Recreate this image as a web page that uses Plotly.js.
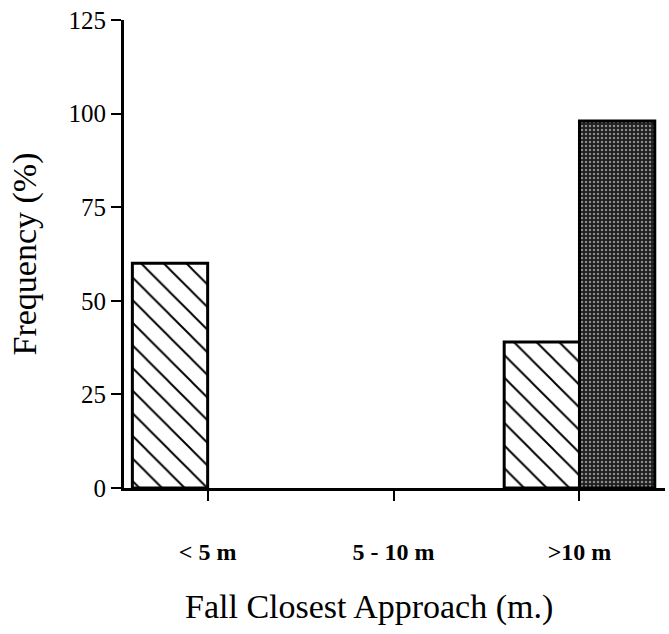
<!DOCTYPE html>
<html>
<head>
<meta charset="utf-8">
<script src="https://cdn.plot.ly/plotly-3.0.1.min.js"></script>
<style>html,body{margin:0;padding:0;background:#fff;}#chart{width:669px;height:634px;}</style>
</head>
<body>
<div id="chart"></div>
<script>
const categories = ["< 5 m", "5 - 10 m", ">10 m"];
const hatchedValues = [60, 0, 39];
const stippledValues = [0, 0, 98];
const yTicks = [0, 25, 50, 75, 100, 125];
const xTitle = "Fall Closest Approach (m.)";
const yTitle = "Frequency (%)";

const serif = "Liberation Serif, Times New Roman, serif";
const outline = vals => vals.map(v => (v > 0 ? 3 : 0));

const traces = [
  {
    type: "bar",
    x: categories,
    y: hatchedValues,
    name: "hatched",
    marker: {
      color: "#ffffff",
      line: {color: "#000", width: outline(hatchedValues)},
      pattern: {shape: "\\", fgcolor: "#000", bgcolor: "#fff", size: 16, solidity: 0.12}
    },
    hoverinfo: "x+y"
  },
  {
    type: "bar",
    x: categories,
    y: stippledValues,
    name: "stippled",
    marker: {
      color: "#222",
      line: {color: "#000", width: outline(stippledValues)},
      pattern: {shape: ".", fgcolor: "#8c8c8c", bgcolor: "#1e1e1e", size: 4, solidity: 0.3}
    },
    hoverinfo: "x+y"
  }
];

const layout = {
  width: 669,
  height: 634,
  margin: {l: 124, r: 4, t: 20, b: 146},
  paper_bgcolor: "#fff",
  plot_bgcolor: "#fff",
  showlegend: false,
  barmode: "group",
  bargap: 0.19,
  bargroupgap: 0,
  font: {family: serif, color: "#000"},
  xaxis: {
    type: "category",
    range: [-0.45, 2.46],
    showgrid: false,
    zeroline: false,
    showline: true,
    linecolor: "#000",
    linewidth: 3,
    ticks: "outside",
    ticklen: 10,
    tickwidth: 2,
    tickcolor: "#000",
    ticklabelstandoff: 30,
    tickfont: {family: serif, size: 24, color: "#000", weight: "bold"},
    automargin: false
  },
  yaxis: {
    range: [0, 125],
    tickvals: yTicks,
    ticktext: yTicks.map(String),
    showgrid: false,
    zeroline: false,
    showline: true,
    linecolor: "#000",
    linewidth: 3,
    ticks: "outside",
    ticklen: 10,
    tickwidth: 2,
    tickcolor: "#000",
    tickfont: {family: serif, size: 25, color: "#000"},
    title: {text: yTitle, font: {family: serif, size: 34, color: "#000"}, standoff: 22},
    automargin: false
  },
  annotations: [
    {
      text: xTitle,
      xref: "paper", yref: "paper",
      x: 0.453, y: 0,
      xanchor: "center", yanchor: "middle",
      yshift: -119,
      showarrow: false,
      font: {family: serif, size: 34, color: "#000"}
    }
  ]
};

Plotly.newPlot("chart", traces, layout, {displayModeBar: false, staticPlot: true});
</script>
</body>
</html>
